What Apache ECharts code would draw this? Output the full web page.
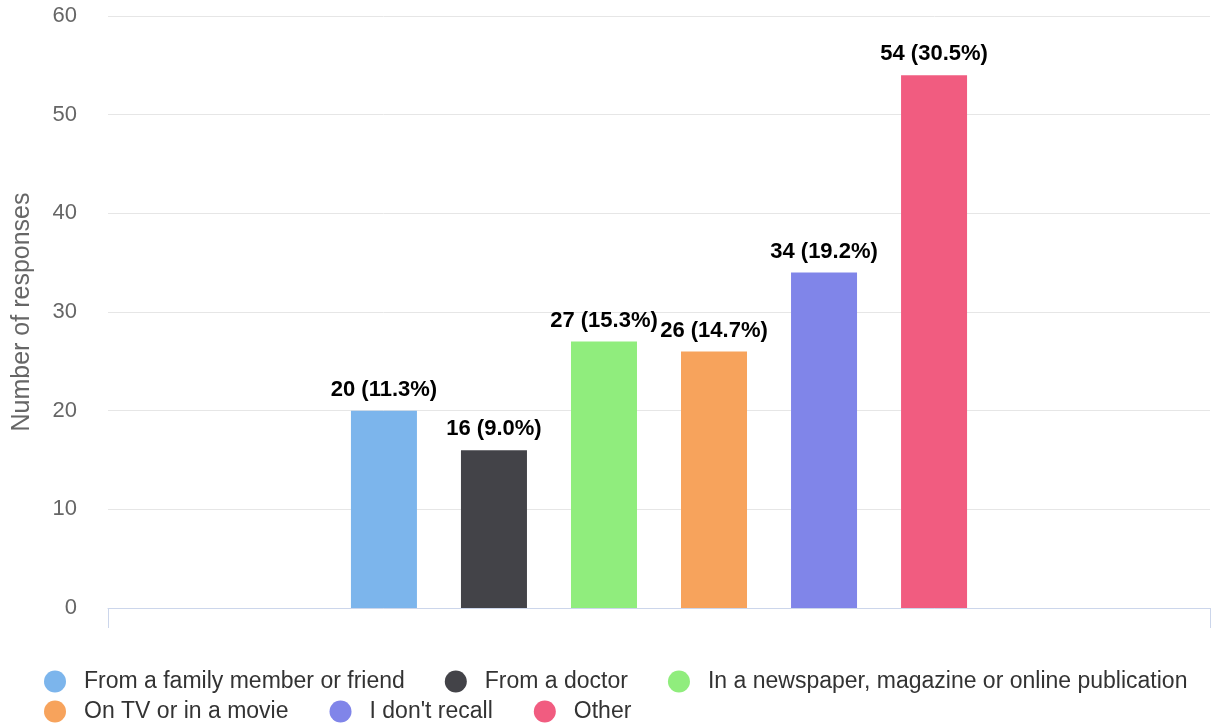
<!DOCTYPE html>
<html>
<head>
<meta charset="utf-8">
<script src="https://cdn.jsdelivr.net/npm/echarts@6/dist/echarts.min.js"></script>
<style>
  html, body { margin: 0; padding: 0; background: #fff; }
  #chart { width: 1213px; height: 723px; }
</style>
</head>
<body>
<div id="chart"></div>
<script>
// answers and counts
var seriesNames = [
  "From a family member or friend",
  "From a doctor",
  "In a newspaper, magazine or online publication",
  "On TV or in a movie",
  "I don't recall",
  "Other"
];
var seriesValues = [20, 16, 27, 26, 34, 54];
var seriesColors = ["#7cb5ec", "#434348", "#90ed7d", "#f7a35c", "#8085e9", "#f15c80"];
var yTicks = [0, 10, 20, 30, 40, 50, 60];

var FONT = "Liberation Sans, Arial, sans-serif";
var total = seriesValues.reduce(function (a, b) { return a + b; }, 0);

var series = seriesNames.map(function (name, i) {
  return {
    name: name,
    type: "bar",
    data: [seriesValues[i]],
    barWidth: 66,
    barGap: "66.7%",
    itemStyle: { color: seriesColors[i] },
    label: {
      show: true,
      position: "top",
      distance: 10,
      color: "#000",
      fontWeight: "bold",
      fontSize: 22,
      fontFamily: FONT,
      formatter: function (p) {
        return p.value + " (" + (p.value / total * 100).toFixed(1) + "%)";
      }
    }
  };
});

// legend in two rows, like the original
function legendRow(top, names, gap) {
  return {
    left: 44,
    top: top,
    padding: 0,
    icon: "circle",
    itemWidth: 22,
    itemHeight: 22,
    itemGap: gap,
    textStyle: {
      color: "#333",
      fontSize: 23,
      padding: [0, 0, 0, 13],
      fontFamily: FONT
    },
    data: names
  };
}

var myChart = echarts.init(document.getElementById("chart"));
myChart.setOption({
  backgroundColor: "#fff",
  animation: false,
  textStyle: { fontFamily: FONT },
  grid: { left: 108, right: 3, top: 16, bottom: 115, containLabel: false },
  legend: [
    legendRow(670, seriesNames.slice(0, 3), 40),
    legendRow(700, seriesNames.slice(3), 41)
  ],
  xAxis: {
    type: "category",
    data: [""],
    axisLine: { lineStyle: { color: "#ccd6eb", width: 1 } },
    axisTick: { show: true, length: 20, lineStyle: { color: "#ccd6eb" } },
    axisLabel: { show: false },
    splitLine: { show: false }
  },
  yAxis: {
    type: "value",
    min: yTicks[0],
    max: yTicks[yTicks.length - 1],
    interval: 10,
    name: "Number of responses",
    nameLocation: "middle",
    nameGap: 73,
    nameTextStyle: { color: "#666", fontSize: 25 },
    axisLine: { show: false },
    axisTick: { show: false },
    axisLabel: { color: "#666", fontSize: 22, margin: 31 },
    splitLine: { lineStyle: { color: "#e6e6e6", width: 1 } }
  },
  series: series
});
</script>
</body>
</html>
